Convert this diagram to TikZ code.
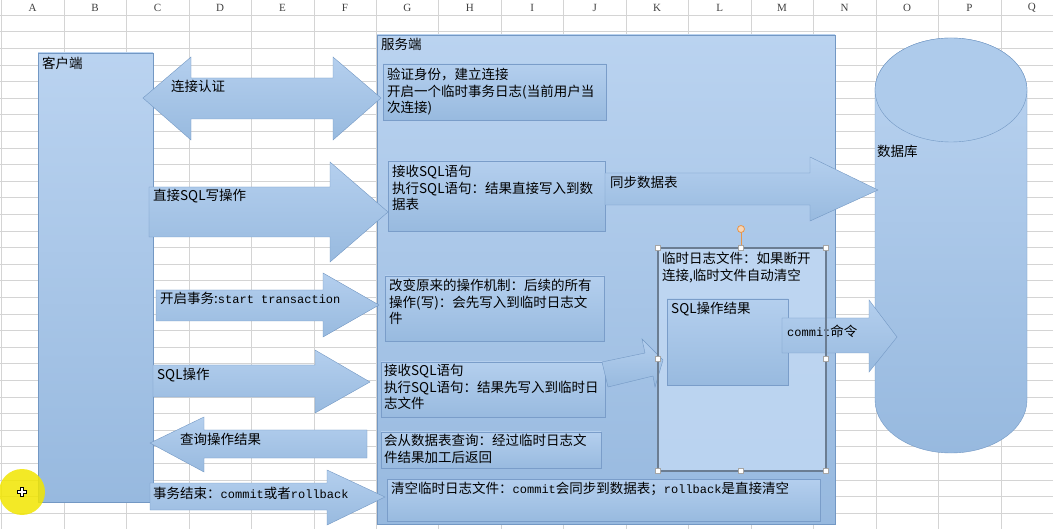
\documentclass[tikz,border=0pt]{standalone}
\usepackage{fontspec}
\setmainfont{Noto Sans CJK SC}
\newfontfamily\monofont{Liberation Mono}
\newfontfamily\headfont{Liberation Serif}
\definecolor{gridgray}{HTML}{D4D4D4}
\definecolor{headgray}{HTML}{404040}
\definecolor{boxtop}{HTML}{BAD3F0}
\definecolor{boxbot}{HTML}{97B9DF}
\definecolor{boxline}{HTML}{7398C4}
\definecolor{txttop}{HTML}{B4CFEE}
\definecolor{txtbot}{HTML}{98BADF}
\definecolor{txtline}{HTML}{7A9DC9}
\definecolor{seltline}{HTML}{6B7D92}
\definecolor{rothandle}{HTML}{E8954A}
\definecolor{cursoryellow}{HTML}{F2E600}
\newcommand{\mono}[1]{{\monofont\fontsize{12}{16}\selectfont #1}}
\begin{document}
\begin{tikzpicture}[x=1pt,y=-1pt,
  cjk/.style={font=\fontsize{13.5}{16.5}\selectfont, inner sep=0pt, align=left, anchor=north west},
  shadebox/.style={draw=boxline, top color=boxtop, bottom color=boxbot},
  txtbox/.style={draw=txtline, top color=txttop, bottom color=txtbot},
  blockarrow/.style={draw=boxline, top color=txttop, bottom color=txtbot, line join=miter},
  handlebox/.style={draw=gray!70, fill=white, minimum size=5pt, inner sep=0pt, line width=.5pt}]

\useasboundingbox (0,0) rectangle (1053,529);
\fill[white] (0,0) rectangle (1053,529);

% sheet grid
\foreach \j in {0,...,31}
    \draw[gridgray] (0,15+16.6*\j) -- (1053,15+16.6*\j);
\foreach \i in {0,...,16}
    \draw[gridgray] (1.5+62.45*\i,0) -- (1.5+62.45*\i,529);
\foreach \c [count=\i from 0] in {A,...,Q}
    \node[font=\headfont\fontsize{11}{12}\selectfont, text=headgray] (col\c) at (32.7+62.45*\i,8) {\c};

% client and server
\draw[shadebox] (38,53) rectangle (153,502);
\node[cjk] (client) at (42,57) {客户端};
\draw[shadebox] (377,35) rectangle (835,524);
\node[cjk] (server) at (381,38) {服务端};

% database
\draw[shadebox] (875,90) -- (875,400) arc[start angle=180, end angle=0, x radius=76, y radius=53]
    -- (1027,90) arc[start angle=0, end angle=-180, x radius=76, y radius=52] -- cycle;
\draw[boxline, fill=txttop!80!txtbot] (951,90) ellipse[x radius=76, y radius=52];
\node[cjk] (db) at (877,145) {数据库};

% server text boxes
\draw[txtbox] (383,64) rectangle (606,120);
\node[cjk] (auth) at (387,68) {验证身份，建立连接\\开启一个临时事务日志(当前用户当\\次连接)};
\draw[txtbox] (388,161) rectangle (605,231);
\node[cjk] (direct) at (392,165) {接收SQL语句\\执行SQL语句：结果直接写入到数\\据表};
\draw[txtbox] (385,276) rectangle (604,341);
\node[cjk] (change) at (389,279) {改变原来的操作机制：后续的所有\\操作(写)：会先写入到临时日志文\\件};
\draw[txtbox] (381,362) rectangle (605,417);
\node[cjk] (recv) at (384,364) {接收SQL语句\\执行SQL语句：结果先写入到临时日\\志文件};
\draw[txtbox] (381,432) rectangle (601,468);
\node[cjk] (query) at (384,434) {会从数据表查询：经过临时日志文\\件结果加工后返回};
\draw[txtbox] (387,479) rectangle (820,521);
\node[cjk] (clear) at (391,482) {清空临时日志文件：\mono{commit}会同步到数据表；\mono{rollback}是直接清空};

% temp log file
\fill[top color=boxtop!95!white, bottom color=boxtop] (658,248) rectangle (826,471);
\node[cjk] (templog) at (662,252) {临时日志文件：如果断开\\连接,临时文件自动清空};
\draw[txtbox] (667,299) rectangle (788,385);
\node[cjk] (sqlres) at (671,302) {SQL操作结果};

% block arrows
\draw[blockarrow] (143,98) -- (191,57) -- (191,78) -- (333,78) -- (333,57) -- (381,98)
    -- (333,140) -- (333,119) -- (191,119) -- (191,140) -- cycle;
\node[cjk] (lbconnect) at (171,80) {连接认证};
\draw[blockarrow] (149,187) -- (330,187) -- (330,162) -- (388,212) -- (330,262) -- (330,237) -- (149,237) -- cycle;
\node[cjk] (lbwrite) at (153,189) {直接SQL写操作};
\draw[blockarrow] (156,290) -- (323,290) -- (323,273) -- (379,305) -- (323,337) -- (323,321) -- (156,321) -- cycle;
\node[cjk] (lbstart) at (160,292) {开启事务:\mono{start transaction}};
\draw[blockarrow] (153,365) -- (315,365) -- (315,350) -- (370,382) -- (315,413) -- (315,397) -- (153,397) -- cycle;
\node[cjk] (lbsql) at (157,368) {SQL操作};
\draw[blockarrow] (150,443) -- (204,417) -- (204,430) -- (367,430) -- (367,458) -- (204,458) -- (204,472) -- cycle;
\node[cjk] (lbresult) at (180,433) {查询操作结果};
\draw[blockarrow] (150,483) -- (327,483) -- (327,470) -- (385,497) -- (327,525) -- (327,510) -- (150,510) -- cycle;
\node[cjk] (lbend) at (153,487) {事务结束：\mono{commit}或者\mono{rollback}};
\draw[blockarrow] (605,173) -- (810,173) -- (810,157) -- (878,190) -- (810,221) -- (810,205) -- (605,205) -- cycle;
\node[cjk] (lbsync) at (610,176) {同步数据表};
\draw[blockarrow] (602,362) -- (645,353) -- (642,339) -- (663,360) -- (655,387) -- (653,376) -- (608,387) -- cycle;
\draw[blockarrow] (782,318) -- (869,318) -- (869,300) -- (897,337) -- (869,372) -- (869,353) -- (782,353) -- cycle;
\node[cjk] (lbcommit) at (787,325) {\mono{commit}命令};

% selection frame
\draw[seltline, line width=1.2pt] (658,248) rectangle (826,471);
\draw[rothandle, line width=.8pt] (741,248) -- (741,232);
\draw[rothandle, fill=rothandle!40, line width=.8pt] (741,229) circle[radius=3.5];
\foreach \p [count=\k] in {(658,248),(741,248),(826,248),(658,359),(826,359),(658,471),(741,471),(826,471)}
    \node[handlebox] (hd\k) at \p {};

% cursor
\fill[cursoryellow, opacity=.85] (22,492) circle[radius=23];
\draw[black, line width=4.5pt] (17,492) -- (27,492) (22,487) -- (22,497);
\draw[white, line width=2.2pt] (17.8,492) -- (26.2,492) (22,487.8) -- (22,496.2);
\end{tikzpicture}
\end{document}
